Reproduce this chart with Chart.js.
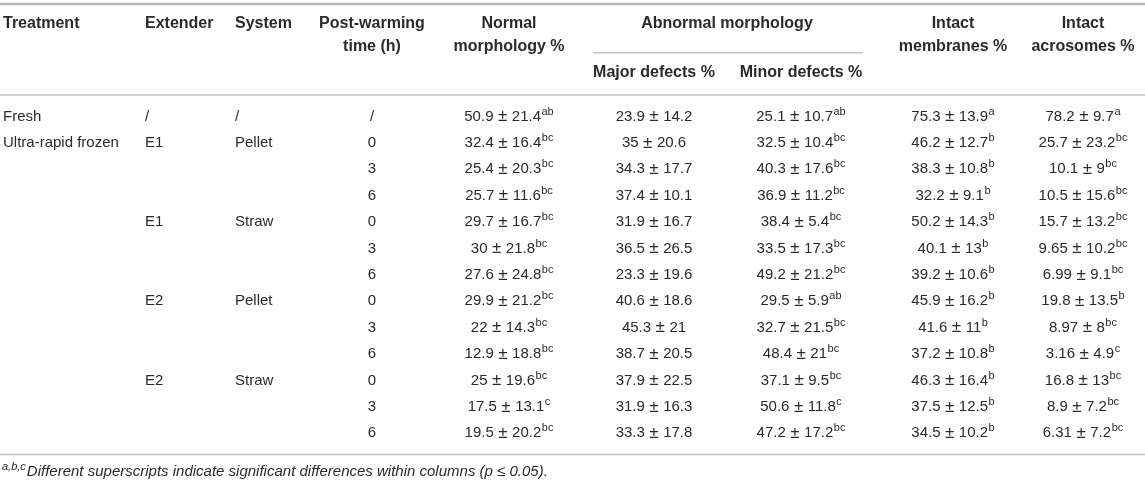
<!DOCTYPE html>
<html><head><meta charset="utf-8">
<script src="https://cdn.jsdelivr.net/npm/chart.js@4"></script>
<style>html,body{margin:0;padding:0;background:#fff}#wrap{width:1145px;height:486px;position:relative}</style>
</head><body><div id="wrap"><canvas id="c"></canvas></div>
<script>
// ---------- data ----------
const treatment = ['Fresh','Ultra-rapid frozen','','','','','','','','','','',''];
const extender  = ['/','E1','','','E1','','','E2','','','E2','',''];
const system    = ['/','Pellet','','','Straw','','','Pellet','','','Straw','',''];
const warmTime  = ['/','0','3','6','0','3','6','0','3','6','0','3','6'];
const normalMean = [50.9,32.4,25.4,25.7,29.7,30,27.6,29.9,22,12.9,25,17.5,19.5];
const normalSD   = [21.4,16.4,20.3,11.6,16.7,21.8,24.8,21.2,14.3,18.8,19.6,13.1,20.2];
const normalSup  = ['ab','bc','bc','bc','bc','bc','bc','bc','bc','bc','bc','c','bc'];
const majorMean  = [23.9,35,34.3,37.4,31.9,36.5,23.3,40.6,45.3,38.7,37.9,31.9,33.3];
const majorSD    = [14.2,20.6,17.7,10.1,16.7,26.5,19.6,18.6,21,20.5,22.5,16.3,17.8];
const majorSup   = ['','','','','','','','','','','','',''];
const minorMean  = [25.1,32.5,40.3,36.9,38.4,33.5,49.2,29.5,32.7,48.4,37.1,50.6,47.2];
const minorSD    = [10.7,10.4,17.6,11.2,5.4,17.3,21.2,5.9,21.5,21,9.5,11.8,17.2];
const minorSup   = ['ab','bc','bc','bc','bc','bc','bc','ab','bc','bc','bc','c','bc'];
const membMean   = [75.3,46.2,38.3,32.2,50.2,40.1,39.2,45.9,41.6,37.2,46.3,37.5,34.5];
const membSD     = [13.9,12.7,10.8,9.1,14.3,13,10.6,16.2,11,10.8,16.4,12.5,10.2];
const membSup    = ['a','b','b','b','b','b','b','b','b','b','b','b','b'];
const acroMean   = [78.2,25.7,10.1,10.5,15.7,9.65,6.99,19.8,8.97,3.16,16.8,8.9,6.31];
const acroSD     = [9.7,23.2,9,15.6,13.2,10.2,9.1,13.5,8,4.9,13,7.2,7.2];
const acroSup    = ['a','bc','bc','bc','bc','bc','bc','b','bc','c','bc','bc','bc'];

const headTop = ['Treatment','Extender','System','Post-warming','Normal','Abnormal morphology','Intact','Intact'];
const headMid = ['','','','time (h)','morphology %','','membranes %','acrosomes %'];
const subHead = ['Major defects %','Minor defects %'];
const footSup = 'a,b,c';
const footText = 'Different superscripts indicate significant differences within columns (p \u2264 0.05).';

// ---------- layout (scale units) ----------
const leftX = [3,145,235];
const centerX = [372,509,654,801,953,1083];
const abnCenter = 727, subRule = [593,863];
const rowTop = -3.504, rowMid = -2.65, rowSub = -1.66;
const ruleTop = -4.26, ruleSub = -2.417, ruleHead = -0.814, ruleFoot = 12.8, footRow = 13.45;
const pmGap = 4.5;

const TXT = '#2a2a2a';
const F_BODY = '15px "Liberation Sans", Arial, sans-serif';
const F_PM = '17px "Liberation Sans", Arial, sans-serif';
const F_BOLD = 'bold 16px "Liberation Sans", Arial, sans-serif';
const F_SUP = '11px "Liberation Sans", Arial, sans-serif';

const rows = treatment.map((_,i)=>i);
const numCols = [[normalMean,normalSD,normalSup],[majorMean,majorSD,majorSup],[minorMean,minorSD,minorSup],[membMean,membSD,membSup],[acroMean,acroSD,acroSup]];

const tablePlugin = {
  id:'tableDraw',
  afterDraw(chart){
    const ctx = chart.ctx, xs = chart.scales.x, ys = chart.scales.y;
    const X = v=>xs.getPixelForValue(v), Y = v=>ys.getPixelForValue(v);
    ctx.save();
    function hline(x0,x1,yv,w,col){ ctx.beginPath(); ctx.strokeStyle=col; ctx.lineWidth=w; ctx.moveTo(X(x0),Y(yv)); ctx.lineTo(X(x1),Y(yv)); ctx.stroke(); }
    hline(xs.min, xs.max, ruleTop, 2.5, '#b4b4b4');
    hline(subRule[0], subRule[1], ruleSub, 1.5, '#c4c4c4');
    hline(xs.min, xs.max, ruleHead, 1.5, '#c4c4c4');
    hline(xs.min, xs.max, ruleFoot, 1.5, '#c4c4c4');
    ctx.fillStyle = TXT; ctx.textBaseline = 'middle';
    // header
    ctx.font = F_BOLD;
    for (let c=0;c<3;c++){ ctx.textAlign='left'; ctx.fillText(headTop[c], X(leftX[c]), Y(rowTop)); }
    const hc = [centerX[0], centerX[1], abnCenter, centerX[4], centerX[5]];
    ctx.textAlign='center';
    for (let c=3;c<8;c++){
      ctx.fillText(headTop[c], X(hc[c-3]), Y(rowTop));
      if (headMid[c]) ctx.fillText(headMid[c], X(hc[c-3]), Y(rowMid));
    }
    ctx.fillText(subHead[0], X(centerX[2]), Y(rowSub));
    ctx.fillText(subHead[1], X(centerX[3]), Y(rowSub));
    // body
    rows.forEach(r=>{
      ctx.font = F_BODY; ctx.textAlign='left';
      [treatment,extender,system].forEach((arr,c)=>{ if(arr[r]) ctx.fillText(arr[r], X(leftX[c]), Y(r)); });
      ctx.textAlign='center';
      ctx.fillText(warmTime[r], X(centerX[0]), Y(r));
      numCols.forEach((col,c)=>{
        const a = String(col[0][r]), b = String(col[1][r]), sup = col[2][r];
        ctx.font = F_BODY;
        const wa = ctx.measureText(a).width, wb = ctx.measureText(b).width;
        ctx.font = F_PM; const wpm = ctx.measureText('\u00b1').width;
        ctx.font = F_SUP; const ws = sup ? ctx.measureText(sup).width + 0.5 : 0;
        const total = wa + pmGap + wpm + pmGap + wb + ws;
        let x0 = X(centerX[c+1]) - total/2; const yy = Y(r);
        ctx.textAlign='left'; ctx.font = F_BODY;
        ctx.fillText(a, x0, yy); x0 += wa + pmGap;
        ctx.font = F_PM; ctx.fillText('\u00b1', x0, yy); x0 += wpm + pmGap;
        ctx.font = F_BODY; ctx.fillText(b, x0, yy); x0 += wb;
        if (sup){ ctx.font = F_SUP; ctx.fillText(sup, x0+0.5, yy-5); }
      });
    });
    // footnote
    ctx.textAlign='left';
    ctx.font = 'italic 11px "Liberation Sans", Arial, sans-serif';
    const fx = X(xs.min)+2, fy = Y(footRow);
    ctx.fillText(footSup, fx, fy-5);
    const wsup = ctx.measureText(footSup).width;
    ctx.font = 'italic 15px "Liberation Sans", Arial, sans-serif';
    ctx.fillText(footText, fx+wsup+1, fy);
    ctx.restore();
  }
};

new Chart(document.getElementById('c'), {
  type:'scatter',
  data:{ datasets:[{ data: rows.map(r=>({x:centerX[0], y:r})), pointRadius:0, showLine:false }] },
  options:{
    responsive:true, maintainAspectRatio:false, animation:false,
    layout:{padding:0},
    plugins:{legend:{display:false}, tooltip:{enabled:false}},
    scales:{
      x:{type:'linear', min:0, max:1145, display:false},
      y:{type:'linear', min:-4.413, max:13.996, reverse:true, display:false}
    }
  },
  plugins:[tablePlugin]
});
</script></body></html>
